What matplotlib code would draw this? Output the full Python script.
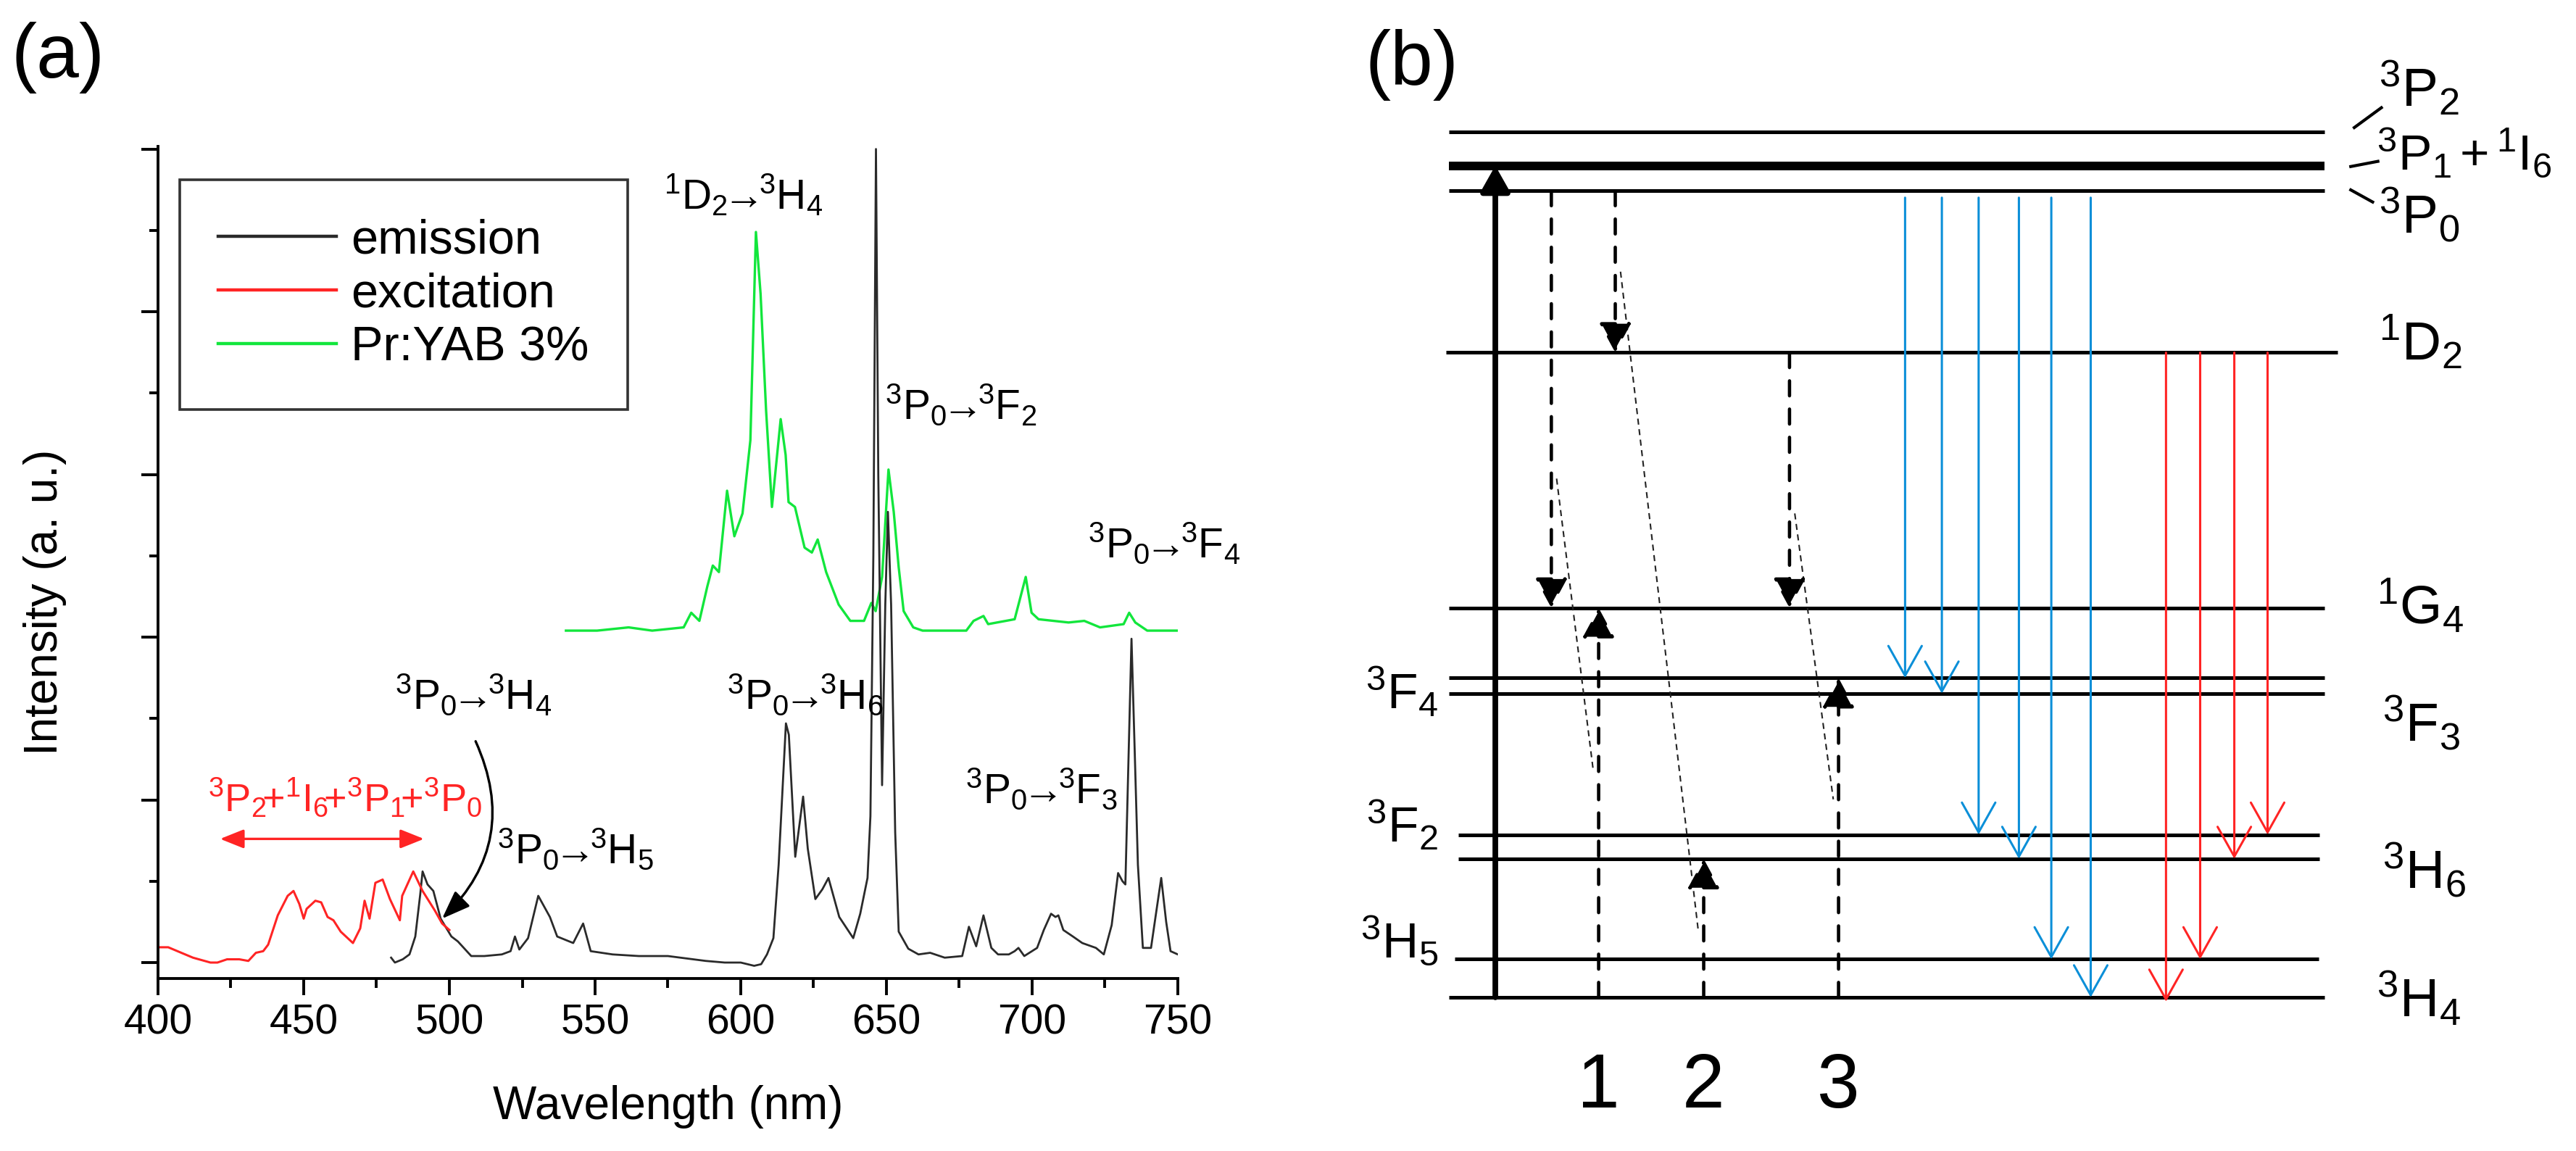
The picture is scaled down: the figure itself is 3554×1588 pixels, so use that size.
import matplotlib.pyplot as plt
from matplotlib.ticker import MultipleLocator

plt.rcParams['font.family'] = ['Liberation Sans', 'DejaVu Sans']
plt.rcParams['mathtext.fontset'] = 'custom'
plt.rcParams['mathtext.rm'] = 'Liberation Sans'
plt.rcParams['mathtext.it'] = 'Liberation Sans'
plt.rcParams['mathtext.bf'] = 'Liberation Sans'

# ---------------- (a) spectra ----------------
em_wl = [480, 481.3, 484, 486.3, 488.3, 490, 490.8, 492.5, 494.5, 497, 500.7, 502.9,
         507.5, 512, 518, 521, 522.5, 524, 527, 530.5, 534.5, 537, 542.5, 545.9, 548.5,
         556, 565, 575, 588, 594.5, 600, 604.6, 607, 609, 611.2, 613, 615.5, 616.5,
         618.7, 621.4, 623, 625.6, 628, 630.1, 633.8, 638.6, 641, 643.5, 644.5, 645.5,
         646.4, 647.2, 648.5, 649.6, 650.5, 651.6, 653, 654.2, 657.5, 661, 665, 670,
         676, 678.3, 680.8, 683.3, 686, 688.3, 692, 694, 695.3, 697.3, 701.7, 704,
         706.5, 708, 709, 710.7, 714, 717.2, 721.9, 724.6, 727.3, 729.5, 731, 732,
         733, 734.1, 735.2, 736.3, 738, 740.8, 742.5, 744.3, 746, 747.5, 750]
em_int = [0.03, 0.0, 0.02, 0.05, 0.16, 0.42, 0.56, 0.48, 0.44, 0.27, 0.16, 0.13,
          0.04, 0.04, 0.05, 0.07, 0.16, 0.08, 0.15, 0.41, 0.28, 0.16, 0.12, 0.24, 0.07,
          0.05, 0.04, 0.04, 0.01, 0.0, 0.0, -0.02, -0.01, 0.05, 0.15, 0.6, 1.47, 1.40,
          0.65, 1.02, 0.7, 0.39, 0.45, 0.52, 0.28, 0.15, 0.3, 0.52, 0.9, 2.5,
          5.0, 3.0, 1.09, 2.2, 2.77, 2.2, 0.8, 0.19, 0.085, 0.05, 0.06, 0.03,
          0.04, 0.22, 0.10, 0.29, 0.09, 0.05, 0.05, 0.07, 0.09, 0.04, 0.09, 0.2,
          0.30, 0.28, 0.29, 0.20, 0.16, 0.12, 0.09, 0.05, 0.23, 0.55, 0.50, 0.48,
          1.2, 1.99, 1.3, 0.6, 0.09, 0.09, 0.3, 0.52, 0.25, 0.07, 0.05]

ex_wl = [400, 403.5, 408, 412, 418, 420.4, 423.7, 427.9, 431, 433.6, 436.1, 437.8,
         441.1, 444.5, 446.5, 448.5, 450, 451, 454, 456, 458.2, 460.2, 462.7, 466.9,
         469.4, 470.9, 472.6, 474.6, 477.1, 479.6, 483, 483.8, 487.6, 490.8, 495,
         497.5, 500]
ex_int = [0.094, 0.094, 0.06, 0.03, 0.0, 0.0, 0.02, 0.02, 0.01, 0.06, 0.07, 0.11,
          0.29, 0.41, 0.44, 0.36, 0.27, 0.33, 0.38, 0.37, 0.28, 0.26, 0.19, 0.12,
          0.21, 0.38, 0.27, 0.49, 0.51, 0.39, 0.26, 0.41, 0.56, 0.44, 0.32,
          0.24, 0.2]

yab_wl = [540, 550.7, 561.5, 569.6, 580.4, 583, 585.8, 588.5, 590.4, 592.5, 595.3,
          597.8, 600.6, 603.3, 605.2, 606.8, 608.7, 610.7, 613.7, 615.4, 616.4, 618.6,
          621.9, 624.4, 626.4, 629.3, 633.6, 637.6, 642.3, 644.8, 646.3, 648.5, 650.7,
          652.5, 654.2, 655.9, 659.2, 662.4, 670, 677.4, 679.9, 683.3, 684.9, 694,
          697.8, 699.8, 702.2, 712.5, 717.9, 723.3, 731.4, 733.3, 735.4, 739.5, 750]
yab_int = [2.04, 2.04, 2.06, 2.04, 2.06, 2.15, 2.10, 2.31, 2.44, 2.40, 2.90,
           2.62, 2.76, 3.21, 4.49, 4.11, 3.39, 2.80, 3.34, 3.12, 2.83, 2.80,
           2.55, 2.52, 2.60, 2.40, 2.20, 2.10, 2.10, 2.21, 2.16, 2.37, 3.03,
           2.77, 2.43, 2.16, 2.06, 2.04, 2.04, 2.04, 2.10, 2.13, 2.08, 2.11,
           2.37, 2.15, 2.11, 2.09, 2.10, 2.06, 2.08, 2.15, 2.09, 2.04, 2.04]

legend_labels = ['emission', 'excitation', 'Pr:YAB 3%']

spec_texts = [r'$^{1}$D$_{2}\!$→$\!{}^{3}$H$_{4}$', r'$^{3}$P$_{0}\!$→$\!{}^{3}$F$_{2}$',
              r'$^{3}$P$_{0}\!$→$\!{}^{3}$F$_{4}$', r'$^{3}$P$_{0}\!$→$\!{}^{3}$H$_{4}$',
              r'$^{3}$P$_{0}\!$→$\!{}^{3}$H$_{6}$', r'$^{3}$P$_{0}\!$→$\!{}^{3}$H$_{5}$',
              r'$^{3}$P$_{0}\!$→$\!{}^{3}$F$_{3}$']
spec_text_xy = [(573.6, 4.63), (649.6, 3.34), (719.2, 2.49), (481.4, 1.56),
                (595.3, 1.56), (516.4, 0.61), (677, 0.98)]
band_text = r'$^{3}$P$_{2}\!$+$^{1}$I$_{6}\!$+$^{3}$P$_{1}\!$+$^{3}$P$_{0}$'

# ---------------- (b) energy levels ----------------
level_names = ['3H4', '3H5', '3H6', '3F2', '3F3', '3F4', '1G4', '1D2', '3P0', '3P1', '3P2']
level_E = [0, 4.4, 16.0, 18.8, 35.1, 36.9, 45.0, 74.5, 93.2, 96.1, 100]
E = dict(zip(level_names, level_E))

blue_from = '3P0'
blue_to = ['3F4', '3F3', '3F2', '3H6', '3H5', '3H4']
red_from = '1D2'
red_to = ['3H4', '3H5', '3H6', '3F2']
cr_down = [('3P0', '1G4'), ('3P0', '1D2'), ('1D2', '1G4')]
cr_up = [('3H4', '1G4'), ('3H4', '3H6'), ('3H4', '3F4')]
cr_names = ['1', '2', '3']

# layout of panel (b), in axes fraction
level_span = {'1D2': (-0.003, 1.015), '3F2': (0.011, 0.994),
              '3H6': (0.011, 0.994), '3H5': (0.007, 0.993)}
pump_x = 0.053
cr_x_down = [0.117, 0.190, 0.389]
cr_x_up = [0.171, 0.291, 0.445]
cr_frac = [(0.69, 0.58), (0.5, 0.47), (0.63, 0.62)]
blue_x = [0.521, 0.563, 0.605, 0.651, 0.688, 0.733]
red_x = [0.819, 0.858, 0.897, 0.935]

right_labels = [(r'$^{3}$P$_{2}$', 1.062, 102.9),
                (r'$^{3}$P$_{1}\,$+$\,{}^{1}$I$_{6}$', 1.060, 95.6),
                (r'$^{3}$P$_{0}$', 1.062, 88.3),
                (r'$^{1}$D$_{2}$', 1.062, 73.6),
                (r'$^{1}$G$_{4}$', 1.060, 43.1),
                (r'$^{3}$F$_{3}$', 1.066, 29.6),
                (r'$^{3}$H$_{6}$', 1.066, 12.6),
                (r'$^{3}$H$_{4}$', 1.060, -2.3)]
left_labels = [(r'$^{3}$F$_{4}$', 33.3), (r'$^{3}$F$_{2}$', 17.9), (r'$^{3}$H$_{5}$', 4.6)]
p_ticks = [((1.034, 100.5), (1.065, 102.8)),
           ((1.030, 96.0), (1.061, 96.6)),
           ((1.030, 93.3), (1.055, 91.9))]

W, H = 3554, 1588
fig = plt.figure(figsize=(W / 200, H / 200), dpi=200)

# ================= panel (a) =================
ax = fig.add_axes([218 / W, (H - 1350) / H, (1625 - 218) / W, (1350 - 202) / H])
l_yab, = ax.plot(yab_wl, yab_int, color='#12e63c', lw=1.2)
l_em, = ax.plot(em_wl, em_int, color='#2a2a2a', lw=1.0)
l_ex, = ax.plot(ex_wl, ex_int, color='#ff2424', lw=1.1)

ax.set_xlim(400, 750)
ax.set_ylim(-0.098, 5.016)
ax.spines['top'].set_visible(False)
ax.spines['right'].set_visible(False)
for s in ['left', 'bottom']:
    ax.spines[s].set_linewidth(1.4)
ax.xaxis.set_major_locator(MultipleLocator(50))
ax.xaxis.set_minor_locator(MultipleLocator(25))
ax.yaxis.set_major_locator(MultipleLocator(1))
ax.yaxis.set_minor_locator(MultipleLocator(0.5))
ax.tick_params(which='major', direction='out', length=8.3, width=1.4, labelsize=20.5, pad=4)
ax.tick_params(which='minor', direction='out', length=4.5, width=1.4)
ax.tick_params(axis='y', which='both', labelleft=False)
ax.set_xlabel('Wavelength (nm)', fontsize=23)
ax.set_ylabel('Intensity (a. u.)', fontsize=23)
ax.xaxis.set_label_coords(0.5, -0.128)
ax.yaxis.set_label_coords(-0.0896, 0.452)

leg = ax.legend([l_em, l_ex, l_yab], legend_labels, loc='upper left',
                bbox_to_anchor=(0.0213, 0.960), borderaxespad=0, fancybox=False,
                edgecolor='#333333', framealpha=1, fontsize=24, handlelength=2.44,
                handletextpad=0.3, labelspacing=0.18, borderpad=0.8)
leg.get_frame().set_linewidth(1.3)
for ln in leg.get_lines():
    ln.set_linewidth(1.6)

for txt, (x, y) in zip(spec_texts, spec_text_xy):
    ax.text(x, y, txt, fontsize=20.5, ha='left', va='baseline')
ax.text(417.2, 0.93, band_text, fontsize=19.5, color='#ff2424', ha='left', va='baseline')
ax.annotate('', xy=(421.3, 0.76), xytext=(491.3, 0.76),
            arrowprops=dict(arrowstyle='<|-|>,head_length=10,head_width=4', mutation_scale=1,
                            color='#ff2424', lw=1.2, shrinkA=0, shrinkB=0))
ax.annotate('', xy=(497.5, 0.27), xytext=(509, 1.36),
            arrowprops=dict(arrowstyle='-|>,head_length=12,head_width=4.5', mutation_scale=1,
                            color='k', lw=1.2, shrinkA=0, shrinkB=0,
                            connectionstyle='arc3,rad=-0.35'))

fig.text(16 / W, 1 - 30 / H, '(a)', fontsize=38, ha='left', va='top')

# ================= panel (b) =================
ax2 = fig.add_axes([1999 / W, (H - 1376) / H, 1208 / W, (1376 - 182) / H])
ax2.set_xlim(0, 1)
ax2.set_ylim(0, 100)
ax2.axis('off')

for name in level_names:
    x0, x1 = level_span.get(name, (0, 1))
    lw = 4.3 if name == '3P1' else 1.8
    ax2.plot([x0, x1], [E[name], E[name]], color='k', lw=lw, solid_capstyle='butt', clip_on=False)


def arrow(x, y0, y1, color, lw, style, ls='-'):
    ax2.annotate('', xy=(x, y1), xytext=(x, y0), annotation_clip=False,
                 arrowprops=dict(arrowstyle=style, color=color, lw=lw, linestyle=ls,
                                 shrinkA=0, shrinkB=0, mutation_scale=1))


# pump
arrow(pump_x, E['3H4'], E['3P1'], 'k', 2.8, '-|>,head_length=10.8,head_width=6.1')

# cross relaxation channels
dash_head = '-|>,head_length=12.6,head_width=6.8'
for i in range(3):
    (a0, a1), (b0, b1) = cr_down[i], cr_up[i]
    xd, xu = cr_x_down[i], cr_x_up[i]
    arrow(xd, E[a0], E[a1], 'k', 1.65, dash_head, ls=(0, (4.5, 4)))
    arrow(xu, E[b0], E[b1], 'k', 1.65, dash_head, ls=(0, (4.5, 4)))
    fd, fu = cr_frac[i]
    yd = E[a0] + fd * (E[a1] - E[a0])
    yu = E[b0] + fu * (E[b1] - E[b0])
    ax2.plot([xd + 0.006, xu - 0.006], [yd, yu], color='#222222', lw=0.75,
             ls=(0, (4, 3)), clip_on=False)
    ax2.text(xu, -12.7, cr_names[i], fontsize=38, ha='center', va='baseline')

open_head = '->,head_length=14.8,head_width=8.3'
for x, lv in zip(blue_x, blue_to):
    arrow(x, E[blue_from] - 0.8, E[lv], '#0b8fd8', 1.1, open_head)
for x, lv in zip(red_x, red_to):
    tip = E[lv] - 0.5 if lv == '3H4' else E[lv]
    arrow(x, E[red_from], tip, '#ff2424', 1.1, open_head)

for txt, x, y in right_labels:
    size = 25 if '+' in txt else 27
    ax2.text(x, y, txt, fontsize=size, ha='left', va='baseline')
for txt, y in left_labels:
    ax2.text(-0.012, y, txt, fontsize=25, ha='right', va='baseline')
for (p0, p1) in p_ticks:
    ax2.plot([p0[0], p1[0]], [p0[1], p1[1]], color='k', lw=1.5, clip_on=False)

fig.text(1884 / W, 1 - 40 / H, '(b)', fontsize=38, ha='left', va='top')

fig.savefig('out.png', dpi=200)
